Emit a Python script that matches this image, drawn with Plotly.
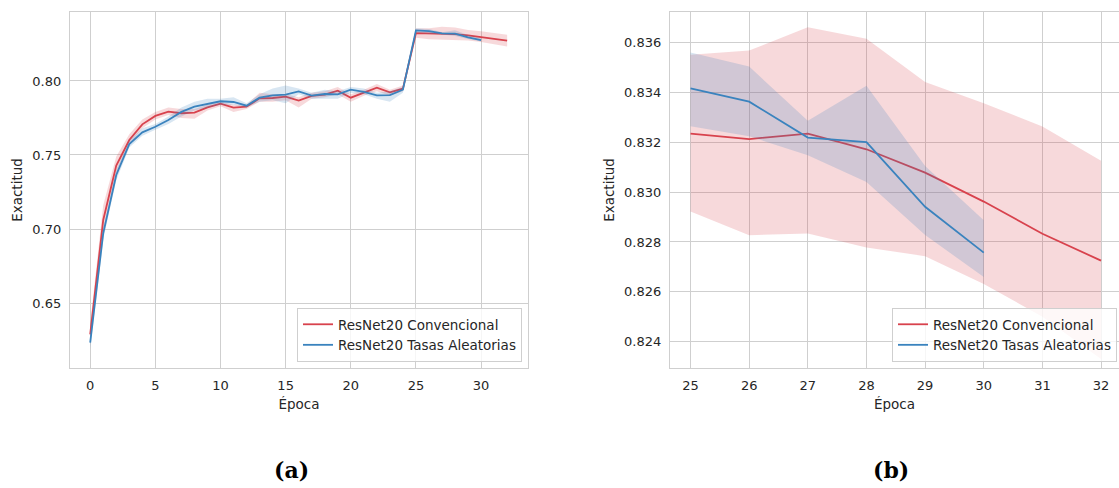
import plotly.graph_objects as go

# ---------------- data ----------------
epochs_conv = list(range(0, 33))
epochs_rand = list(range(0, 31))

conv_mean = [0.6288, 0.7061, 0.7428, 0.7601, 0.7707, 0.7764, 0.7793, 0.7782, 0.7786, 0.7822,
             0.7847, 0.7820, 0.7827, 0.7883, 0.7885, 0.7894, 0.7867, 0.7899, 0.7908, 0.7935,
             0.7887, 0.7923, 0.7955, 0.7923, 0.7948,
             0.83235, 0.83213, 0.83235, 0.83172, 0.83078, 0.82962, 0.82833, 0.82725]
conv_lo = [0.622, 0.698, 0.737, 0.757, 0.768, 0.774, 0.777, 0.775, 0.7745, 0.780,
           0.783, 0.779, 0.781, 0.786, 0.786, 0.787, 0.782, 0.788, 0.789, 0.791,
           0.786, 0.790, 0.793, 0.790, 0.793,
           0.82922, 0.82827, 0.82834, 0.82778, 0.82743, 0.82631, 0.82500, 0.82330]
conv_hi = [0.636, 0.716, 0.749, 0.764, 0.774, 0.779, 0.782, 0.781, 0.781, 0.784,
           0.786, 0.784, 0.784, 0.792, 0.791, 0.791, 0.789, 0.792, 0.793, 0.796,
           0.791, 0.794, 0.798, 0.794, 0.797,
           0.83551, 0.83568, 0.83662, 0.83616, 0.83442, 0.83357, 0.83263, 0.83126]

rand_mean = [0.6232, 0.6971, 0.7365, 0.7574, 0.7653, 0.7691, 0.7736, 0.7791, 0.7827, 0.7847,
             0.7863, 0.7858, 0.7833, 0.7887, 0.7903, 0.7908, 0.7930, 0.7901, 0.7912, 0.7910,
             0.7941, 0.7926, 0.7903, 0.7905, 0.7941,
             0.83416, 0.83363, 0.83219, 0.83201, 0.82941, 0.82757]
rand_lo = [0.619, 0.693, 0.733, 0.755, 0.763, 0.767, 0.771, 0.776, 0.780, 0.782,
           0.784, 0.784, 0.782, 0.786, 0.787, 0.785, 0.791, 0.788, 0.788, 0.788,
           0.792, 0.791, 0.788, 0.786, 0.792,
           0.83264, 0.83224, 0.83148, 0.83041, 0.82828, 0.82659]
rand_hi = [0.627, 0.701, 0.740, 0.760, 0.768, 0.771, 0.776, 0.782, 0.786, 0.788,
           0.788, 0.789, 0.785, 0.791, 0.795, 0.797, 0.795, 0.792, 0.794, 0.793,
           0.796, 0.795, 0.792, 0.793, 0.796,
           0.83560, 0.83504, 0.83286, 0.83427, 0.83105, 0.82887]

zoom_start = 25
name_conv = "ResNet20 Convencional"
name_rand = "ResNet20 Tasas Aleatorias"
x_title = "Época"
y_title = "Exactitud"
captions = ["(a)", "(b)"]

# ---------------- style ----------------
RED = "#d8424d"
BLUE = "#3a83be"
RED_BAND = "rgba(216,66,77,0.2)"
BLUE_BAND = "rgba(58,131,190,0.2)"
TXT = "#262626"
GRID = "#cfcfcf"
FONT = "DejaVu Sans"

W, H = 1119, 488

fig = go.Figure()


def add_series(x, mean, lo, hi, color, band, name, xa, ya, legend, show):
    fig.add_trace(go.Scatter(x=x + x[::-1], y=hi + lo[::-1], fill="toself",
                             fillcolor=band, line=dict(width=0), mode="lines",
                             hoverinfo="skip", showlegend=False, xaxis=xa, yaxis=ya))
    fig.add_trace(go.Scatter(x=x, y=mean, mode="lines", name=name,
                             line=dict(color=color, width=1.8), showlegend=show,
                             legend=legend, xaxis=xa, yaxis=ya))


# left panel (full)
add_series(epochs_conv, conv_mean, conv_lo, conv_hi, RED, RED_BAND, name_conv, "x", "y", "legend", True)
add_series(epochs_rand, rand_mean, rand_lo, rand_hi, BLUE, BLUE_BAND, name_rand, "x", "y", "legend", True)

# right panel (zoom from epoch 25)
i0 = epochs_conv.index(zoom_start)
add_series(epochs_conv[i0:], conv_mean[i0:], conv_lo[i0:], conv_hi[i0:], RED, RED_BAND, name_conv, "x2", "y2", "legend2", True)
j0 = epochs_rand.index(zoom_start)
add_series(epochs_rand[j0:], rand_mean[j0:], rand_lo[j0:], rand_hi[j0:], BLUE, BLUE_BAND, name_rand, "x2", "y2", "legend2", True)

ydom = [(H - 368) / H, (H - 12) / H]

axis_common = dict(showgrid=True, gridcolor=GRID, gridwidth=1.2, zeroline=False,
                   showline=True, linecolor=GRID, linewidth=1.2, mirror=True,
                   ticks="outside", ticklen=5, tickcolor="rgba(0,0,0,0)",
                   tickfont=dict(family=FONT, size=13, color=TXT),
                   title_font=dict(family=FONT, size=13.5, color=TXT))

leg_common = dict(bgcolor="rgba(255,255,255,0.8)", bordercolor=GRID, borderwidth=1,
                  font=dict(family=FONT, size=13.5, color=TXT), tracegroupgap=0, itemwidth=30)

fig.update_layout(
    width=W, height=H, margin=dict(l=0, r=0, t=0, b=0),
    paper_bgcolor="white", plot_bgcolor="white",
    font=dict(family=FONT, size=13, color=TXT),
    xaxis=dict(domain=[70 / W, 528 / W], range=[-1.55, 33.6], tickvals=[0, 5, 10, 15, 20, 25, 30],
               title=dict(text=x_title, standoff=7), anchor="y", **axis_common),
    yaxis=dict(domain=ydom, range=[0.6061, 0.8466], tickvals=[0.65, 0.70, 0.75, 0.80],
               tickformat=".2f", title=dict(text=y_title, standoff=6), anchor="x", **axis_common),
    xaxis2=dict(domain=[670 / W, 1.0], range=[24.65, 32.306], tickvals=list(range(25, 33)),
                title=dict(text=x_title, standoff=7), anchor="y2", **axis_common),
    yaxis2=dict(domain=ydom, range=[0.82294, 0.83723],
                tickvals=[0.824, 0.826, 0.828, 0.830, 0.832, 0.834, 0.836],
                tickformat=".3f", title=dict(text=y_title, standoff=6), anchor="x2", **axis_common),
    legend=dict(x=522 / W, y=(H - 362) / H, xanchor="right", yanchor="bottom", **leg_common),
    legend2=dict(x=1117 / W, y=(H - 362) / H, xanchor="right", yanchor="bottom", **leg_common),
)

for txt, cx in zip(captions, [291, 891]):
    fig.add_annotation(text="<b>" + txt + "</b>", x=cx / W, y=(H - 470) / H, xref="paper", yref="paper",
                       showarrow=False, xanchor="center", yanchor="middle",
                       font=dict(family="DejaVu Serif", size=22, color="black"))

fig.write_html("out.html")
